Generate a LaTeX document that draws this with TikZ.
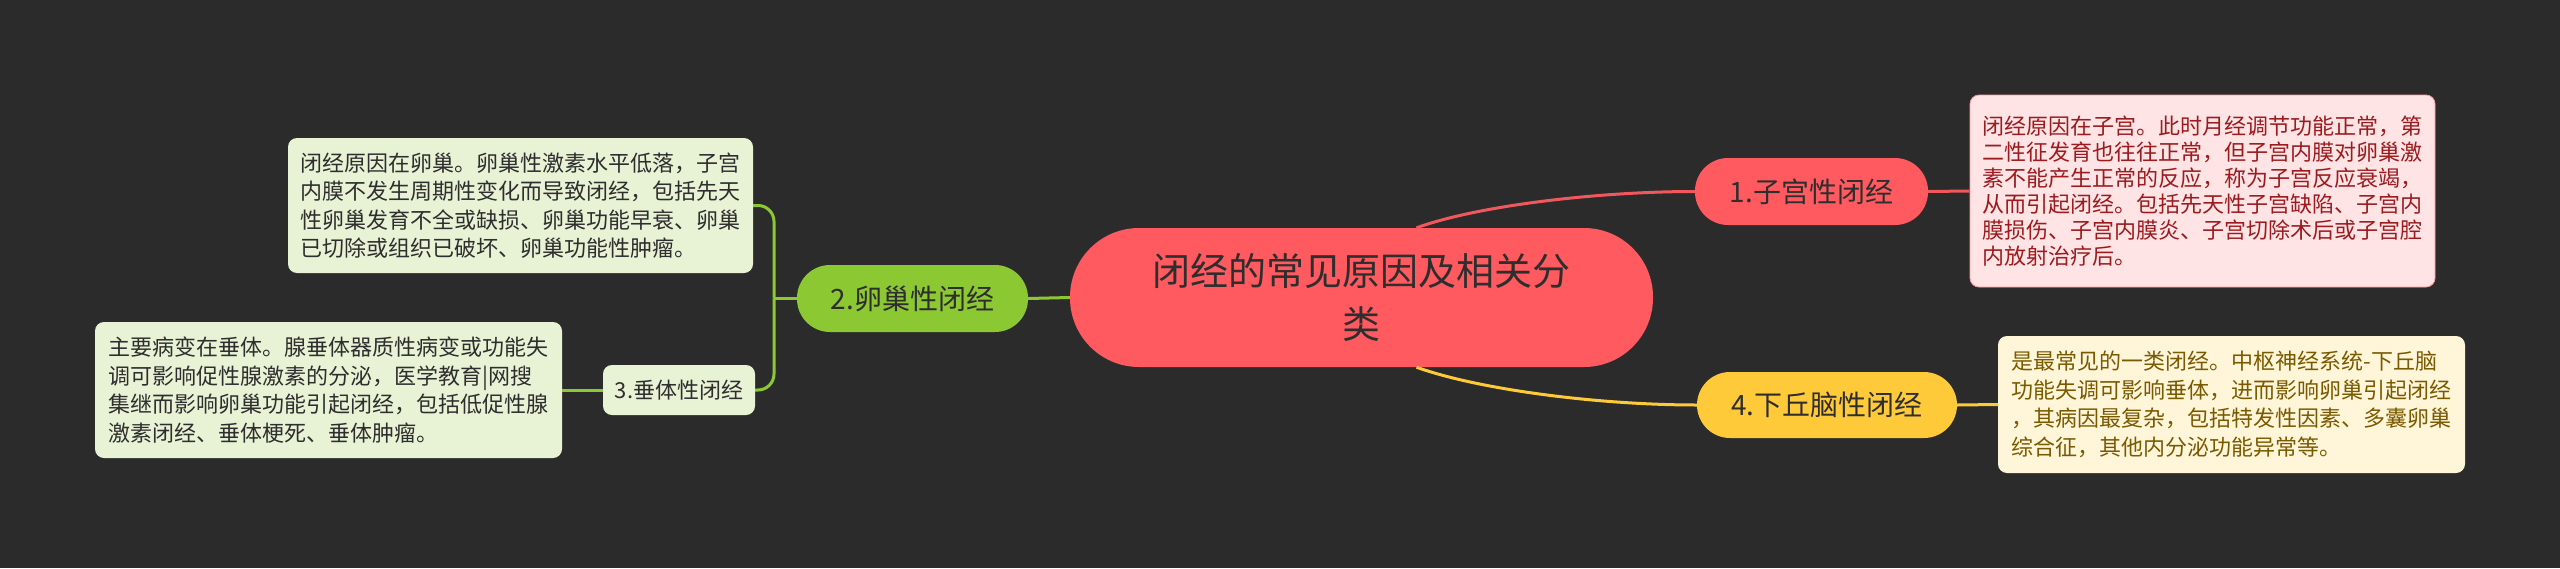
\documentclass[tikz,border=0pt]{standalone}
\usepackage{fontspec}
\newfontfamily\cjk{Noto Sans CJK SC}
\definecolor{bg}{HTML}{2B2B2B}
\definecolor{redc}{HTML}{FF5A5F}
\definecolor{redline}{HTML}{F0585D}
\definecolor{yel}{HTML}{FFCA3A}
\definecolor{grn}{HTML}{8CC832}
\definecolor{lgrn}{HTML}{E8F3D6}
\definecolor{pinkf}{HTML}{FFE4E6}
\definecolor{pinkt}{HTML}{9B1B1E}
\definecolor{yelf}{HTML}{FFF6D9}
\definecolor{yelt}{HTML}{7A5A00}
\definecolor{dtext}{HTML}{2E2E2E}
\tikzset{
  box/.style={rectangle, inner sep=0pt, align=left, rounded corners=9pt, font=\cjk\fontsize{22pt}{28.5pt}\selectfont},
  topic/.style={rectangle, inner sep=0pt, align=center, text=dtext},
  lvl/.style={topic, rounded corners=33pt, font=\cjk\fontsize{28pt}{32pt}\selectfont},
  conn/.style={line width=3pt},
}
\begin{document}
\begin{tikzpicture}[x=1pt,y=-1pt]
\fill[bg] (0,0) rectangle (2560,568);
\useasboundingbox (0,0) rectangle (2560,568);

% root
\node[topic, fill=redc, rounded corners=69pt, minimum width=583pt, minimum height=139pt,
  font=\cjk\fontsize{38pt}{53pt}\selectfont] (root) at (1361.5,297.5) {闭经的常见原因及相关分\\类};

% level 1
\node[lvl, fill=redc, minimum width=233pt, minimum height=67pt] (n1) at (1811.5,191.5) {1.子宫性闭经};
\node[lvl, fill=yel, minimum width=260pt, minimum height=66pt] (n4) at (1827,405) {4.下丘脑性闭经};
\node[lvl, fill=grn, minimum width=231pt, minimum height=67pt] (n2) at (912.5,298.5) {2.卵巢性闭经};
\node[topic, fill=lgrn, rounded corners=9pt, minimum width=152pt, minimum height=50pt,
  font=\cjk\fontsize{22pt}{26pt}\selectfont] (n3) at (679,390) {3.垂体性闭经};

% descriptions
\node[box, fill=pinkf, draw=redc!60, line width=0.8pt, text=pinkt,
  minimum width=465pt, minimum height=192pt,
  font=\cjk\fontsize{22pt}{26pt}\selectfont] (d1) at (2202.5,191) {闭经原因在子宫。此时月经调节功能正常，第\\二性征发育也往往正常，但子宫内膜对卵巢激\\素不能产生正常的反应，称为子宫反应衰竭，\\从而引起闭经。包括先天性子宫缺陷、子宫内\\膜损伤、子宫内膜炎、子宫切除术后或子宫腔\\内放射治疗后。};
\node[box, fill=yelf, text=yelt,
  minimum width=467pt, minimum height=137pt] (d4) at (2231.5,404.5) {是最常见的一类闭经。中枢神经系统-下丘脑\\功能失调可影响垂体，进而影响卵巢引起闭经\\，其病因最复杂，包括特发性因素、多囊卵巢\\综合征，其他内分泌功能异常等。};
\node[box, fill=lgrn, text=dtext,
  minimum width=465pt, minimum height=135pt] (d2) at (520.5,205.5) {闭经原因在卵巢。卵巢性激素水平低落，子宫\\内膜不发生周期性变化而导致闭经，包括先天\\性卵巢发育不全或缺损、卵巢功能早衰、卵巢\\已切除或组织已破坏、卵巢功能性肿瘤。};
\node[box, fill=lgrn, text=dtext,
  minimum width=467pt, minimum height=136pt] (d3) at (328.5,390) {主要病变在垂体。腺垂体器质性病变或功能失\\调可影响促性腺激素的分泌，医学教育|网搜\\集继而影响卵巢功能引起闭经，包括低促性腺\\激素闭经、垂体梗死、垂体肿瘤。};

% connectors
\coordinate (r1) at ([xshift=55pt]root.north);
\coordinate (r4) at ([xshift=55pt]root.south);
\draw[conn, redline] (r1) .. controls (1480,205) and (1600,191.5) .. (n1.west);
\draw[conn, yel] (r4) .. controls (1480,390) and (1600,405) .. (n4.west);
\draw[conn, redline] (n1.east) -- (d1.west);
\draw[conn, yel] (n4.east) -- (d4.west);
\draw[conn, grn] (root.west) -- (n2.east);
\coordinate (j) at (774,298.5);
\draw[conn, grn] (n2.west) -- (j);
\draw[conn, grn, rounded corners=16pt] (j) |- (d2.east);
\draw[conn, grn, rounded corners=16pt] (j) |- (n3.east);
\draw[conn, grn] (d3.east) -- (n3.west);
\end{tikzpicture}
\end{document}
